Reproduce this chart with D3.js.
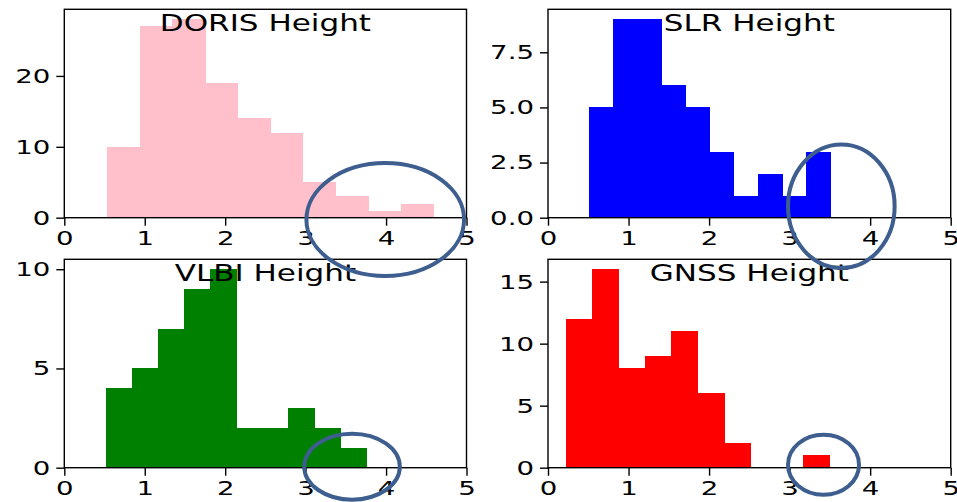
<!DOCTYPE html>
<html>
<head>
<meta charset="utf-8">
<script src="https://cdn.jsdelivr.net/npm/d3@7"></script>
<style>
  html, body { margin: 0; padding: 0; background: #fff; }
  svg { display: block; }
  text { font-family: "DejaVu Sans", sans-serif; fill: #000; }
</style>
</head>
<body>
<svg id="chart" width="957" height="502"></svg>
<script>
// Histogram counts per technique (10 bins each)
const dorisCounts = [10, 27, 28, 19, 14, 12, 5, 3, 1, 2];
const slrCounts   = [5, 9, 9, 6, 5, 3, 1, 2, 1, 3];
const vlbiCounts  = [4, 5, 7, 9, 10, 2, 2, 3, 2, 1];
const gnssCounts  = [12, 16, 8, 9, 11, 6, 2, 0, 0, 1];

// Range of each histogram [min, max] of the height values
const dorisRange = [0.535, 4.585];
const slrRange   = [0.513, 3.502];
const vlbiRange  = [0.519, 3.759];
const gnssRange  = [0.2235, 3.493];

// Tick labels
const xTicks = [0, 1, 2, 3, 4, 5];
const dorisYTicks = [0, 10, 20];
const slrYTicks   = [0, 2.5, 5, 7.5];
const vlbiYTicks  = [0, 5, 10];
const gnssYTicks  = [0, 5, 10, 15];

const titles = ["DORIS Height", "SLR Height", "VLBI Height", "GNSS Height"];
const colors = ["pink", "blue", "green", "red"];

// Highlight ellipses in data units: [cx, cy, rx, ry]
const highlights = [
  [3.99, -0.25, 0.98, 7.97],
  [3.642, 0.517, 0.662, 2.80],
  [3.577, 0.05, 0.594, 1.66],
  [3.421, 0.24, 0.441, 2.42]
];

const panels = [
  { counts: dorisCounts, range: dorisRange, yTicks: dorisYTicks, fmt: d3.format("d"),   box: [64.3, 466.5, 9.3, 217.7] },
  { counts: slrCounts,   range: slrRange,   yTicks: slrYTicks,   fmt: d3.format(".1f"), box: [548, 950.7, 9.3, 217.7] },
  { counts: vlbiCounts,  range: vlbiRange,  yTicks: vlbiYTicks,  fmt: d3.format("d"),   box: [64.3, 466.5, 259.3, 467.7] },
  { counts: gnssCounts,  range: gnssRange,  yTicks: gnssYTicks,  fmt: d3.format("d"),   box: [548, 950.7, 259.3, 467.7] }
];

const SX = 1.38;        // horizontal stretch of the lettering
const TICK_FONT = 20;
const TITLE_FONT = 22.5;

const svg = d3.select("#chart");
const overlay = [];

panels.forEach((p, i) => {
  const [x0, x1, y0, y1] = p.box;
  const ymax = d3.max(p.counts) * 1.05;
  const x = d3.scaleLinear().domain([0, 5]).range([x0, x1]);
  const y = d3.scaleLinear().domain([0, ymax]).range([y1, y0]);
  const n = p.counts.length;
  const w = (p.range[1] - p.range[0]) / n;
  const bins = p.counts.map((c, k) => ({ a: p.range[0] + k * w, b: p.range[0] + (k + 1) * w, c }));

  const g = svg.append("g");

  g.selectAll("rect.bar")
    .data(bins.filter(d => d.c > 0))
    .join("rect")
    .attr("class", "bar")
    .attr("x", d => x(d.a))
    .attr("width", d => x(d.b) - x(d.a) + 0.6)
    .attr("y", d => y(d.c))
    .attr("height", d => y(0) - y(d.c))
    .attr("fill", colors[i])
    .attr("shape-rendering", "crispEdges");

  // frame
  g.append("rect")
    .attr("x", x0).attr("y", y0)
    .attr("width", x1 - x0).attr("height", y1 - y0)
    .attr("fill", "none").attr("stroke", "#000").attr("stroke-width", 1.4);

  // axes
  const xAxis = d3.axisBottom(x).tickValues(xTicks).tickFormat(d3.format("d")).tickSize(8).tickPadding(5);
  const gx = g.append("g").attr("transform", `translate(0,${y1})`).call(xAxis);
  gx.select(".domain").remove();
  gx.selectAll("line").attr("stroke", "#000").attr("stroke-width", 1.4);
  gx.selectAll("text")
    .attr("font-size", TICK_FONT)
    .attr("x", 0)
    .attr("transform", `scale(${SX},1)`);

  const yAxis = d3.axisLeft(y).tickValues(p.yTicks).tickFormat(p.fmt).tickSize(8).tickPadding(6);
  const gy = g.append("g").attr("transform", `translate(${x0},0)`).call(yAxis);
  gy.select(".domain").remove();
  gy.selectAll("line").attr("stroke", "#000").attr("stroke-width", 1.4);
  gy.selectAll("text")
    .attr("font-size", TICK_FONT)
    .attr("x", 0)
    .attr("transform", `translate(-14,0) scale(${SX},1)`);

  // title
  g.append("text")
    .attr("text-anchor", "middle")
    .attr("font-size", TITLE_FONT)
    .attr("transform", `translate(${(x0 + x1) / 2},${y0 + 21.5}) scale(${SX},1)`)
    .text(titles[i]);

  const h = highlights[i];
  overlay.push({ cx: x(h[0]), cy: y(h[1]), rx: x(h[0] + h[2]) - x(h[0]), ry: y(0) - y(h[3]) });
});

// highlight ellipses drawn above all panels
svg.append("g").selectAll("ellipse")
  .data(overlay)
  .join("ellipse")
  .attr("cx", d => d.cx).attr("cy", d => d.cy)
  .attr("rx", d => d.rx).attr("ry", d => d.ry)
  .attr("fill", "none")
  .attr("stroke", "#3d5e8e")
  .attr("stroke-width", 4);
</script>
</body>
</html>
